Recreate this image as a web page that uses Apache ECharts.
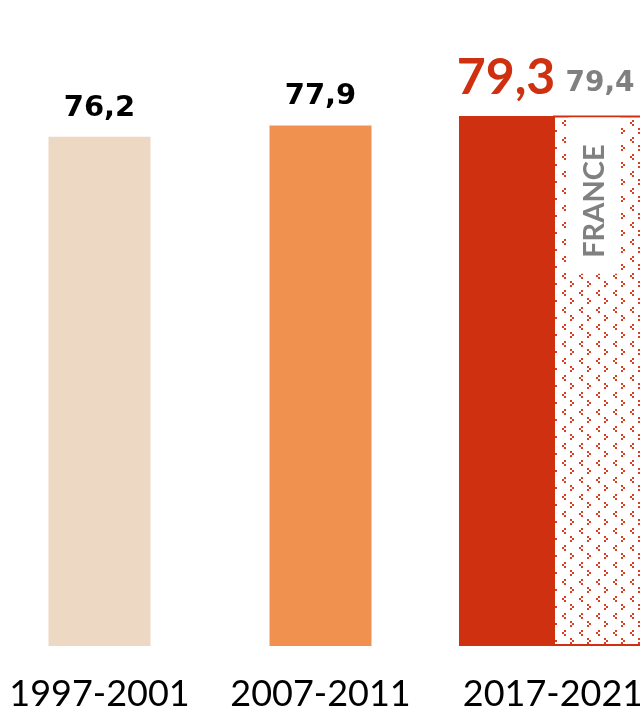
<!DOCTYPE html>
<html><head><meta charset="utf-8">
<script src="https://cdn.jsdelivr.net/npm/echarts@6/dist/echarts.min.js"></script>
<style>html,body{margin:0;padding:0;background:#fff}#c{width:640px;height:708px}</style>
</head><body><div id="c"></div>
<script>
// ---- data ----
const pastCategories = ['1997-2001', '2007-2011'];
const pastValues = [76.2, 77.9];
const recentCategory = ['2017-2021'];
const recentValue = [79.3];
const franceValue = [79.4];
const franceName = 'FRANCE';

const RED = '#cf300f';
const fmt = v => String(v).replace('.', ',');

// pattern tile for the France bar
function makePattern() {
  const c = document.createElement('canvas');
  c.width = 17; c.height = 17;
  const g = c.getContext('2d');
  g.fillStyle = '#fff'; g.fillRect(0, 0, 17, 17);
  g.fillStyle = '#d8401f';
  [[3,1],[1,3],[3,5]].forEach(p => g.fillRect(p[0], p[1], 2, 2));
  [[9,9],[11,11],[9,13]].forEach(p => g.fillRect(p[0], p[1], 2, 2));
  return c;
}

const chart = echarts.init(document.getElementById('c'));
const axisLabelStyle = {
  color: '#000', fontFamily: 'Lato', fontSize: 36, margin: 30, interval: 0
};
chart.setOption({
  animation: false,
  grid: [
    { left: -11, width: 442, top: 78, bottom: 62, outerBoundsMode: 'none', containLabel: false },
    { left: 443, width: 220, top: 78, bottom: 62, outerBoundsMode: 'none', containLabel: false }
  ],
  xAxis: [
    { type: 'category', gridIndex: 0, data: pastCategories,
      axisLine: { show: false }, axisTick: { show: false }, axisLabel: axisLabelStyle },
    { type: 'category', gridIndex: 1, data: recentCategory,
      axisLine: { show: false }, axisTick: { show: false }, axisLabel: axisLabelStyle }
  ],
  yAxis: [
    { type: 'value', gridIndex: 0, min: 0, max: 85, show: false },
    { type: 'value', gridIndex: 1, min: 0, max: 85, show: false }
  ],
  series: [
    {
      type: 'bar', xAxisIndex: 0, yAxisIndex: 0, barWidth: 102,
      data: pastValues.map((v, i) => ({ value: v, itemStyle: { color: ['#ecd8c3', '#f0914f'][i] } })),
      label: { show: true, position: 'top', distance: 14, formatter: p => fmt(p.value),
        color: '#000', fontFamily: 'DejaVu Sans', fontWeight: 'bold', fontSize: 29 }
    },
    {
      type: 'bar', xAxisIndex: 1, yAxisIndex: 1, barWidth: 94, barGap: '0%',
      data: recentValue, itemStyle: { color: RED },
      label: { show: true, position: 'top', distance: 13, formatter: p => fmt(p.value),
        color: RED, fontFamily: 'Lato', fontWeight: 'bold', fontSize: 50 }
    },
    {
      type: 'bar', xAxisIndex: 1, yAxisIndex: 1, barWidth: 94, stack: 'france',
      data: franceValue,
      itemStyle: { color: { image: makePattern(), repeat: 'repeat' }, borderColor: RED, borderWidth: 2 },
      label: { show: true, formatter: franceName, rotate: 90, position: ['44%', 2],
        align: 'right', verticalAlign: 'middle',
        color: '#808080', fontFamily: 'Lato', fontWeight: 'bold', fontSize: 29, lineHeight: 24,
        backgroundColor: '#fff', padding: [18, 27, 10, 16] }
    },
    {
      type: 'bar', xAxisIndex: 1, yAxisIndex: 1, barWidth: 94, stack: 'france',
      data: franceValue.map(() => 0), itemStyle: { color: 'transparent' },
      label: { show: true, position: 'top', distance: 18, formatter: () => fmt(franceValue[0]),
        color: '#808080', fontFamily: 'DejaVu Sans', fontWeight: 'bold', fontSize: 28 }
    }
  ]
});
</script></body></html>
